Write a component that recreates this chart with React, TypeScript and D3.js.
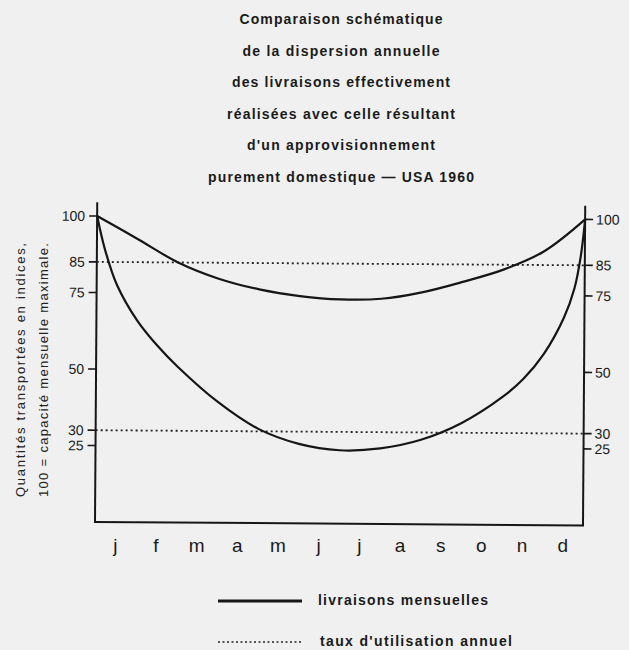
import React from 'react';
import * as d3 from 'd3';

const titleLines = [
  'Comparaison schématique',
  'de la dispersion annuelle',
  'des livraisons effectivement',
  'réalisées avec celle résultant',
  "d'un approvisionnement",
  'purement domestique — USA 1960',
];
const titleWidths = [203, 197, 218, 228, 188, 266];
const months = ['j', 'f', 'm', 'a', 'm', 'j', 'j', 'a', 's', 'o', 'n', 'd'];
const yTicks = [100, 85, 75, 50, 30, 25];
const utilisationLevels = [85, 30];

// "livraisons mensuelles" (position in months from start of January)
const upperPos = [0, 1, 2, 3, 4, 5, 6, 7, 8, 9, 10, 11, 12];
const upperVals = [100, 92.6, 85, 79.8, 76.4, 74.3, 73.3, 73.6, 75.8, 79.3, 83.4, 89.5, 100];
const lowerPos = [0, 0.2, 0.5, 1, 1.5, 2, 3, 4, 5, 6, 7, 8, 9, 10, 10.5, 11, 11.5, 11.75, 11.9, 12];
const lowerVals = [100, 89, 77.5, 66, 57.8, 51, 39.5, 30.8, 26, 24, 24.7, 27.6, 33.2, 41.8, 47.6, 55.8, 68, 77.5, 88, 100];

const yTitle = ['Quantités transportées en indices,', '100 = capacité mensuelle maximale.'];
const legendLabels = ['livraisons mensuelles', "taux d'utilisation annuel"];

export default function App() {
  const W = 629, H = 650;
  const x = d3.scaleLinear().domain([0, 12]).range([95, 583]);
  const y = d3.scaleLinear().domain([0, 100]).range([522, 216]);
  const band = d3.scaleBand<string>().domain(months.map((m, i) => i + m)).range([95, 583]);
  const line = d3.line<[number, number]>().x(d => x(d[0])).y(d => y(d[1])).curve(d3.curveCatmullRom.alpha(0.5));
  const upper = line(upperPos.map((p, i) => [p, upperVals[i]]) as [number, number][]) || '';
  const lower = line(lowerPos.map((p, i) => [p, lowerVals[i]]) as [number, number][]) || '';
  const ink = '#161616';
  const font = "'Liberation Sans', Arial, sans-serif";
  return (
    <svg width={W} height={H} style={{ position: 'absolute', left: 0, top: 0 }} fontFamily={font}>
      <rect x={0} y={0} width={W} height={H} fill="#f0f0f0" />
      {titleLines.map((t, i) => (
        <text key={i} x={341} y={24 + i * 31.6} textAnchor="middle" fontSize={14} fontWeight="bold"
          fill="#1a1a1a" textLength={titleWidths[i]} lengthAdjust="spacing">{t}</text>
      ))}
      {yTitle.map((t, i) => (
        <text key={i} transform={`translate(${25 + i * 23},370) rotate(-90)`} textAnchor="middle"
          fontSize={13} fill="#222" textLength={254} lengthAdjust="spacing">{t}</text>
      ))}
      <g transform={`rotate(0.4, 95, 522)`}>
        <line x1={x(0)} x2={x(0)} y1={y(104.5)} y2={y(0)} stroke={ink} strokeWidth={2} />
        <line x1={x(12)} x2={x(12)} y1={y(104.5)} y2={y(0)} stroke={ink} strokeWidth={2} />
        <line x1={x(0) - 1} x2={x(12) + 1} y1={y(0)} y2={y(0)} stroke={ink} strokeWidth={2} />
        {yTicks.map(v => (
          <g key={v}>
            <line x1={x(0) - 8} x2={x(0)} y1={y(v)} y2={y(v)} stroke={ink} strokeWidth={1.6} />
            <text x={x(0) - 12} y={y(v)} dy="0.35em" textAnchor="end" fontSize={14} fill="#1a1a1a">{v}</text>
            <line x1={x(12)} x2={x(12) + 8} y1={y(v)} y2={y(v)} stroke={ink} strokeWidth={1.6} />
            <text x={x(12) + 11} y={y(v)} dy="0.35em" textAnchor="start" fontSize={14} fill="#1a1a1a">{v}</text>
          </g>
        ))}
        {utilisationLevels.map(v => (
          <line key={v} x1={x(0)} x2={x(12)} y1={y(v)} y2={y(v)} stroke="#222" strokeWidth={1.8} strokeDasharray="2 3" />
        ))}
        <path d={upper} fill="none" stroke={ink} strokeWidth={2.2} />
        <path d={lower} fill="none" stroke={ink} strokeWidth={2.2} />
      </g>
      {months.map((m, i) => (
        <text key={i} x={(band(i + m) || 0) + band.bandwidth() / 2} y={552} textAnchor="middle" fontSize={19} fill="#1a1a1a">{m}</text>
      ))}
      <line x1={218} x2={302} y1={601} y2={601} stroke={ink} strokeWidth={3} />
      <text x={318} y={605} fontSize={14} fontWeight="bold" fill="#1a1a1a" textLength={170} lengthAdjust="spacing">{legendLabels[0]}</text>
      <line x1={218} x2={302} y1={642} y2={642} stroke="#222" strokeWidth={1.6} strokeDasharray="2 2.5" />
      <text x={320} y={646} fontSize={14} fontWeight="bold" fill="#1a1a1a" textLength={192} lengthAdjust="spacing">{legendLabels[1]}</text>
    </svg>
  );
}
